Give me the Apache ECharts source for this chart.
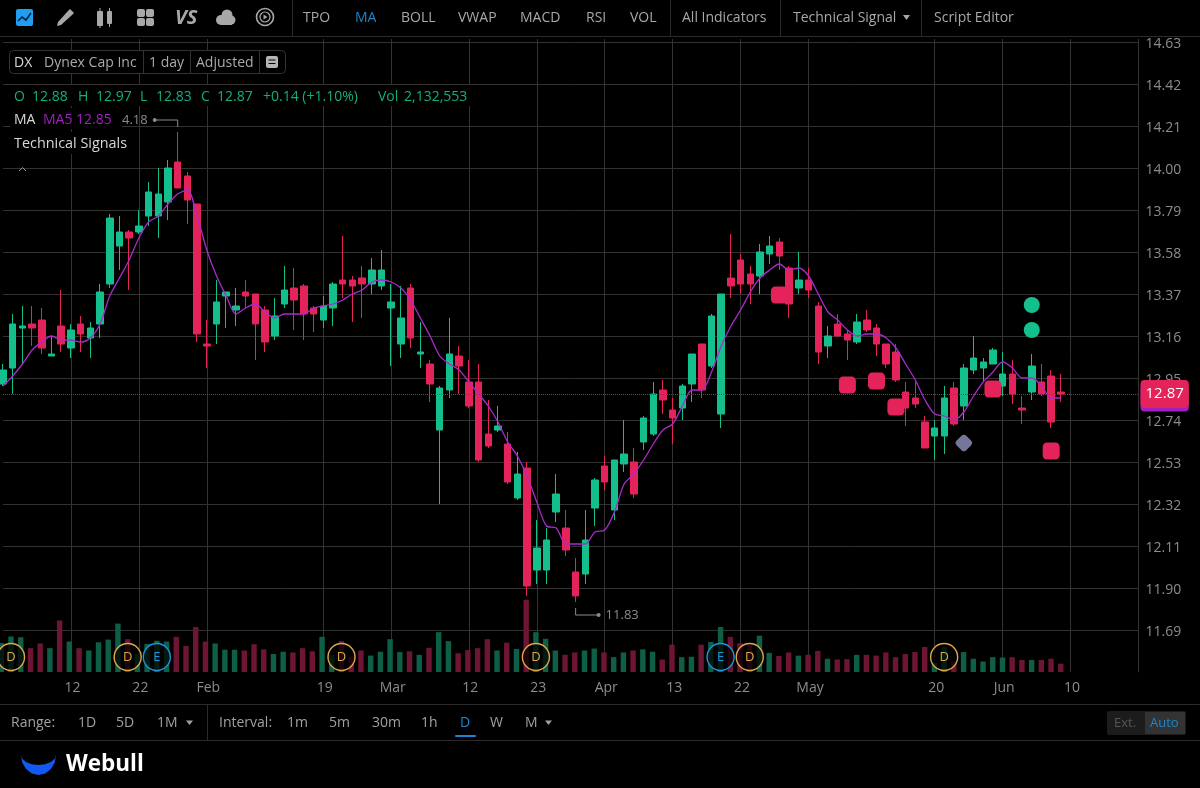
<!DOCTYPE html>
<html><head><meta charset="utf-8"><title>DX chart</title>
<style>html,body{margin:0;padding:0;background:#000}#c{width:1200px;height:788px}</style>
<script src="https://cdn.jsdelivr.net/npm/echarts@6/dist/echarts.min.js"></script>
</head><body><div id="c"></div>
<script>
const opens=[12.92,13.00,13.20,13.22,13.24,13.06,13.21,13.10,13.22,13.15,13.22,13.42,13.61,13.68,13.68,13.76,13.76,13.83,14.03,13.96,
13.82,13.12,13.22,13.36,13.29,13.38,13.37,13.29,13.16,13.32,13.40,13.41,13.30,13.24,13.30,13.44,13.44,13.45,13.42,13.41,
13.30,13.12,13.40,13.07,13.02,12.69,12.89,13.06,12.93,12.93,12.67,12.69,12.62,12.35,12.50,11.99,11.99,12.28,12.20,11.98,
11.97,12.30,12.51,12.29,12.52,12.53,12.63,12.67,12.89,12.79,12.80,12.92,13.12,13.01,12.77,13.45,13.54,13.47,13.46,13.57,
13.63,13.50,13.40,13.44,13.31,13.11,13.22,13.17,13.13,13.24,13.20,13.12,13.08,12.88,12.85,12.73,12.66,12.66,12.90,12.81,
12.99,13.00,13.02,12.91,12.97,12.80,12.88,12.93,12.96,12.88];
const closes=[12.99,13.22,13.21,13.20,13.10,13.07,13.12,13.19,13.17,13.20,13.38,13.75,13.68,13.65,13.71,13.88,13.87,14.00,13.90,13.84,
13.17,13.11,13.33,13.38,13.31,13.36,13.22,13.13,13.26,13.39,13.34,13.27,13.27,13.31,13.42,13.42,13.41,13.42,13.49,13.49,
13.33,13.25,13.15,13.08,12.92,12.90,13.07,13.01,12.81,12.54,12.61,12.71,12.43,12.47,11.91,12.10,12.14,12.37,12.09,11.86,
12.14,12.44,12.43,12.54,12.57,12.37,12.75,12.87,12.84,12.75,12.91,13.07,12.89,13.26,13.37,13.41,13.42,13.42,13.58,13.61,
13.56,13.32,13.44,13.39,13.08,13.16,13.16,13.14,13.23,13.19,13.12,13.02,12.94,12.80,12.82,12.60,12.70,12.85,12.72,13.00,
13.05,13.03,13.09,12.97,12.87,12.79,13.01,12.87,12.73,12.87];
const lows=[12.91,12.87,13.02,13.11,13.07,13.06,13.08,13.05,13.08,13.05,13.15,13.40,13.49,13.39,13.67,13.71,13.65,13.74,13.90,13.72,
13.13,13.00,13.12,13.20,13.21,13.30,13.04,13.08,13.14,13.30,13.19,13.14,13.18,13.20,13.21,13.35,13.23,13.25,13.37,13.39,
13.01,13.05,13.10,13.00,12.83,12.32,12.85,12.87,12.80,12.53,12.60,12.68,12.42,12.34,11.86,11.92,11.92,12.23,12.06,11.83,
11.92,12.21,12.39,12.24,12.48,12.35,12.59,12.66,12.77,12.62,12.74,12.83,12.85,13.00,12.70,13.35,13.37,13.32,13.37,13.52,
13.49,13.25,13.37,13.35,13.02,13.05,13.16,13.04,13.12,13.18,13.06,13.00,12.93,12.71,12.80,12.60,12.54,12.57,12.71,12.74,
12.97,12.93,13.02,12.86,12.82,12.72,12.84,12.86,12.70,12.83];
const highs=[13.02,13.27,13.31,13.31,13.30,13.16,13.39,13.22,13.26,13.23,13.42,13.77,13.76,13.69,13.79,13.93,14.00,14.04,14.18,13.98,
13.82,13.24,13.44,13.38,13.40,13.44,13.37,13.31,13.35,13.51,13.50,13.42,13.31,13.36,13.43,13.66,13.46,13.51,13.55,13.59,
13.42,13.41,13.42,13.23,13.04,12.91,13.25,13.11,13.04,13.02,12.84,12.81,12.68,12.58,12.53,12.24,12.20,12.47,12.29,12.05,
12.29,12.45,12.56,12.54,12.74,12.60,12.76,12.93,12.94,12.85,12.92,13.07,13.12,13.27,13.37,13.67,13.57,13.51,13.62,13.66,
13.65,13.51,13.58,13.50,13.33,13.21,13.27,13.19,13.27,13.29,13.22,13.12,13.12,12.93,12.93,12.76,12.74,12.91,12.93,13.02,
13.16,13.05,13.10,13.08,13.04,12.86,13.07,13.02,12.99,12.97];
const ma5=[12.91,12.96,13.02,13.09,13.13,13.16,13.14,13.14,13.13,13.15,13.22,13.36,13.45,13.54,13.65,13.73,13.76,13.82,13.87,13.89,
13.76,13.59,13.46,13.36,13.27,13.30,13.32,13.28,13.25,13.27,13.27,13.27,13.30,13.31,13.32,13.34,13.37,13.39,13.43,13.44,
13.43,13.40,13.34,13.25,13.16,13.06,13.02,12.99,12.93,12.87,12.81,12.73,12.63,12.56,12.46,12.33,12.21,12.20,12.12,12.12,
12.12,12.18,12.19,12.28,12.42,12.47,12.54,12.62,12.69,12.72,12.81,12.89,12.89,12.98,13.11,13.21,13.29,13.38,13.45,13.49,
13.52,13.49,13.50,13.46,13.37,13.28,13.24,13.19,13.16,13.17,13.17,13.15,13.10,13.02,12.94,12.84,12.77,12.76,12.74,12.78,
12.86,12.93,12.98,13.03,13.00,12.95,12.95,12.91,12.85,12.85];
const volumes=[7.4,9.1,8.9,6.1,7.3,6.1,13.2,7.8,6.1,5.5,7.6,8.3,12.4,8.4,4.7,7.2,8.0,7.8,9.0,6.7,
11.5,7.8,7.3,5.7,5.7,5.5,7.1,5.8,4.6,5.2,5.0,6.1,5.3,9.0,4.3,7.9,4.0,5.5,4.2,5.2,
8.4,5.1,5.3,4.4,6.2,10.2,7.9,4.8,5.6,6.1,8.4,5.5,7.5,5.9,18.5,10.2,8.5,5.5,4.4,5.0,
5.5,6.0,5.0,3.8,5.0,5.5,5.8,5.2,3.2,7.0,3.8,3.9,7.0,7.7,11.5,9.0,7.4,7.0,9.3,4.9,
4.1,5.0,4.2,4.4,5.4,3.4,3.2,3.3,4.4,4.4,4.2,5.0,3.8,4.6,5.1,6.4,2.3,6.4,2.7,5.1,
3.4,2.7,3.8,3.7,3.8,3.1,3.1,3.1,3.4,2.13];
const tickIndex=[7,14,21,33,40,48,55,62,69,76,83,96,103,110];
const tickLabels=['12','22','Feb','19','Mar','12','23','Apr','13','22','May','20','Jun','10'];
const categoryCount=118;
const lastPrice=12.87, lastMA=12.85;
const squareSignals=[[80,13.365],[87,12.915],[90,12.935],[92,12.805],[102,12.895],[108,12.585]];
const circleSignals=[[106,13.315],[106,13.19]];
const diamondSignals=[[99,12.625]];
const dividendIdx=[1,13,35,55,77,97];
const earningsIdx=[16,74];
const extremes=[[18,14.18,-1],[59,11.83,1]];

const GREEN='#14bf8e',RED='#e4235a',VGREEN='#0e5f47',VRED='#6e1534',GRID='#323232',FONT='"Open Sans",sans-serif';
const categories=Array.from({length:categoryCount},(_,i)=>{const k=tickIndex.indexOf(i);return k>=0?tickLabels[k]:'';});
const ohlc=opens.map((o,i)=>[o,closes[i],lows[i],highs[i]]);
const volData=volumes.map((v,i)=>({value:v,itemStyle:{color:closes[i]>=opens[i]?VGREEN:VRED}}));

const BADGE_Y=3.84;
function badge(idx,letter,col){return {type:'scatter',xAxisIndex:1,yAxisIndex:1,silent:true,z:6,symbol:'circle',symbolSize:27,
  data:idx.map(i=>[i,BADGE_Y]),
  itemStyle:{color:'rgba(0,0,0,0.72)',borderColor:col,borderWidth:1.4,opacity:1},
  label:{show:true,position:'inside',formatter:letter,color:col,fontFamily:FONT,fontSize:13}};}

const g=[];
function T(x,y,t,c,s,o){g.push(Object.assign({type:'text',z:60,style:Object.assign({x,y:y+1,text:t,fill:c,fontFamily:FONT,fontSize:s||14,verticalAlign:'middle',align:'left'},o||{})}));}
function R(x,y,w,h,fill,r,stroke){g.push({type:'rect',z:(fill==='#000'?55:58),shape:{x,y,width:w,height:h,r:r||0},style:{fill:fill||'none',stroke:stroke||null,lineWidth:1}});}
function L(x1,y1,x2,y2,c){g.push({type:'line',z:58,shape:{x1,y1,x2,y2},style:{stroke:c||'#2b2b2b',lineWidth:1}});}
function PG(points,c){g.push({type:'polygon',z:60,shape:{points},style:{fill:c}});}

// chrome
L(0,36.5,1200,36.5);L(0,704.5,1200,704.5);L(0,740.5,1200,740.5);
[292.5,670.5,780.5,921.5].forEach(x=>L(x,0,x,36));
const TOP='#a8a8a8';
[['TPO',303],['BOLL',401],['VWAP',458],['MACD',520],['RSI',586],['VOL',630],['All Indicators',682],['Technical Signal',793],['Script Editor',934]].forEach(a=>T(a[1],17,a[0],TOP,14));
T(355,17,'MA','#1c86d0',14);
PG([[903,15],[910,15],[906.5,20]],TOP);
// icons
R(16,9,17,17,'#1e9df2',2);
g.push({type:'polyline',z:61,shape:{points:[[18,21],[22,17],[26,20],[31,13]]},style:{stroke:'#06263c',lineWidth:1.6,fill:null}});
PG([[57,26],[58,22],[68,11],[70,9],[74,13],[72,15],[61,25]],TOP);
R(97,11,6,15,TOP,1);L(100,8,100,28,TOP);R(107,11,5,13,TOP,1);L(109.5,8,109.5,27,TOP);
[[137,9],[146,9],[137,18],[146,18]].forEach(a=>R(a[0],a[1],8,8,TOP,2));
T(175,17,'VS',TOP,20,{fontWeight:'bold',fontStyle:'italic'});
[[221,20,5],[227,15,5.5],[231,20,4.5]].forEach(a=>g.push({type:'circle',z:60,shape:{cx:a[0],cy:a[1],r:a[2]},style:{fill:TOP}}));
R(221,19,11,6,TOP);
g.push({type:'circle',z:60,shape:{cx:265,cy:17,r:8.5},style:{fill:'none',stroke:TOP,lineWidth:1.6}});
g.push({type:'circle',z:60,shape:{cx:265,cy:17,r:5},style:{fill:'none',stroke:TOP,lineWidth:1.2}});
PG([[263.5,14.5],[263.5,19.5],[267.5,17]],TOP);
// info pill
R(9.5,50.5,276,23,'#000',4,'#333');
L(143.5,51,143.5,73,'#333');L(190.5,51,190.5,73,'#333');L(259.5,51,259.5,73,'#333');
T(14,62.5,'DX','#d8d8d8',14);T(44,62.5,'Dynex Cap Inc','#aaa',14);T(149,62.5,'1 day','#aaa',14);T(196,62.5,'Adjusted','#aaa',14);
R(266,56,12,12,'#b5b5b5',2);L(268.5,60,275.5,60,'#000');L(268.5,63.5,275.5,63.5,'#000');
// info rows
R(10,85,462,21,'#000');R(10,108,112,21,'#000');R(10,132,120,22,'#000');
const TEAL='#14ad82';
[['O',14],['12.88',32],['H',78],['12.97',96],['L',140],['12.83',156],['C',201],['12.87',217],['+0.14 (+1.10%)',263],['Vol',378],['2,132,553',404]].forEach(a=>T(a[1],96.5,a[0],TEAL,14));
T(14,119.5,'MA','#d8d8d8',14);T(43,119.5,'MA5 12.85','#a01fc0',14);
T(14,142.5,'Technical Signals','#d8d8d8',14.4);
g.push({type:'polyline',z:60,shape:{points:[[19,171],[22.5,167.5],[26,171]]},style:{stroke:'#999',lineWidth:1,fill:null}});
// bottom bar
const BOT='#a0a0a0';
[['Range:',11],['1D',78],['5D',116],['1M',157],['Interval:',219],['1m',287],['5m',329],['30m',372],['1h',421],['W',490],['M',525]].forEach(a=>T(a[1],722,a[0],BOT,14));
T(460,722,'D','#1c86d0',14);
L(207.5,705,207.5,740);
R(455,735,21,2,'#1c86d0',1);
[186,545].forEach(x=>PG([[x,720.5],[x+7,720.5],[x+3.5,725]],BOT));
R(1107,711,79,24,'#1c1c1c',2);R(1145,712,40,22,'#333');
T(1114,722,'Ext.','#555',13);T(1150,722,'Auto','#1c86d0',13);
PG([[56,755],[54.7,762.7],[50.9,769.1],[45.2,773.5],[38.5,775],[31.8,773.5],[26.1,769.1],[22.3,762.7],[21,755],[22.3,758.8],[26.1,762.1],[31.8,764.2],[38.5,765],[45.2,764.2],[50.9,762.1],[54.7,758.8]],'#1458f2');
T(66,764,'Webull','#fff',22.5,{fontWeight:'bold'});

const option={backgroundColor:'#000',animation:false,textStyle:{fontFamily:FONT},
 grid:[{left:1.3,width:1137.24,top:39,bottom:116,containLabel:false},{left:1.3,width:1137.24,top:592,bottom:116}],
 xAxis:[{type:'category',gridIndex:0,data:categories,boundaryGap:false,axisLine:{show:false},axisTick:{show:false},
   axisLabel:{interval:0,color:'#8c8c8c',fontSize:14,margin:9,fontFamily:FONT,padding:[0,0,0,3]},
   splitLine:{show:true,interval:(i)=>tickIndex.includes(i),lineStyle:{color:GRID,width:1}}},
  {type:'category',gridIndex:1,data:categories,boundaryGap:false,show:false}],
 yAxis:[{type:'value',gridIndex:0,position:'right',scale:true,min:11.48,max:14.645,interval:0.21,
   axisLine:{show:true,lineStyle:{color:GRID}},axisTick:{show:false},
   axisLabel:{margin:7,showMinLabel:false,showMaxLabel:false,formatter:v=>'{p|'+v.toFixed(2)+'}',
     rich:{p:{color:'#8c8c8c',fontSize:14,fontFamily:FONT,padding:[4,0,0,0]}}},
   splitLine:{show:true,showMinLine:false,showMaxLine:false,lineStyle:{color:GRID,width:1}}},
  {type:'value',gridIndex:1,min:0,max:20.48,show:false}],
 series:[
  {name:'Volume',type:'bar',xAxisIndex:1,yAxisIndex:1,barWidth:5.4,data:volData,z:1,silent:true},
  {name:'DX',type:'candlestick',xAxisIndex:0,yAxisIndex:0,barWidth:7,z:3,data:ohlc,silent:true,
   itemStyle:{color:GREEN,color0:RED,borderColor:GREEN,borderColor0:RED,borderWidth:1},
   markLine:{silent:true,symbol:'none',animation:false,precision:2,
    data:[{yAxis:lastMA,lineStyle:{color:'rgba(0,0,0,0)',opacity:1},label:{show:true,opacity:1,position:'end',distance:2,formatter:lastMA.toFixed(2),backgroundColor:'#a01fc0',borderRadius:4,padding:[6,5,6,5],color:'#a01fc0',fontSize:15,fontFamily:FONT}}]}},
  {name:'MA5',type:'line',xAxisIndex:0,yAxisIndex:0,data:ma5,smooth:0.3,symbol:'none',z:4,silent:true,lineStyle:{color:'#a92bcb',width:1.3},
   markLine:{silent:true,symbol:'none',animation:false,precision:2,
    data:[{yAxis:lastPrice,lineStyle:{type:'dotted',color:'#a0285a',width:1,opacity:1},label:{show:true,position:'end',distance:2,formatter:lastPrice.toFixed(2),backgroundColor:RED,borderRadius:4,padding:[7,5,6,5],color:'#fff',fontSize:15,fontFamily:FONT}}]}},
  {type:'scatter',xAxisIndex:0,yAxisIndex:0,z:5,silent:true,symbol:'roundRect',symbolSize:17,data:squareSignals,itemStyle:{color:RED,opacity:1}},
  {type:'scatter',xAxisIndex:0,yAxisIndex:0,z:5,silent:true,symbol:'circle',symbolSize:16,data:circleSignals,itemStyle:{color:GREEN,opacity:1}},
  {type:'scatter',xAxisIndex:0,yAxisIndex:0,z:5,silent:true,symbol:'roundRect',symbolRotate:45,symbolSize:13.5,data:diamondSignals,itemStyle:{color:'#76769c',opacity:1}},
  badge(dividendIdx,'D','#dfa64c'),
  badge(earningsIdx,'E','#1c95dc'),
  {type:'custom',xAxisIndex:0,yAxisIndex:0,z:7,silent:true,clip:false,data:extremes,
   renderItem:(p,api)=>{const c=api.coord([api.value(0),api.value(1)]),d=api.value(2),x=c[0],y=c[1];const C='#8a8a8a';
     const y1=d<0?y-12:y+13;
     return {type:'group',children:[
      {type:'polyline',shape:{points:[[x,y+(d<0?-5:6)],[x,y1],[x+d*23,y1]]},style:{stroke:C,lineWidth:1,fill:null}},
      {type:'circle',shape:{cx:x+d*23,cy:y1,r:2},style:{fill:C}},
      {type:'text',style:{x:x+d*30,y:y1,text:api.value(1).toFixed(2),fill:C,fontFamily:FONT,fontSize:13,align:d<0?'right':'left',verticalAlign:'middle'}}]};}}
 ],
 graphic:{elements:g}};
const chart=echarts.init(document.getElementById('c'));
chart.setOption(option);
</script></body></html>
